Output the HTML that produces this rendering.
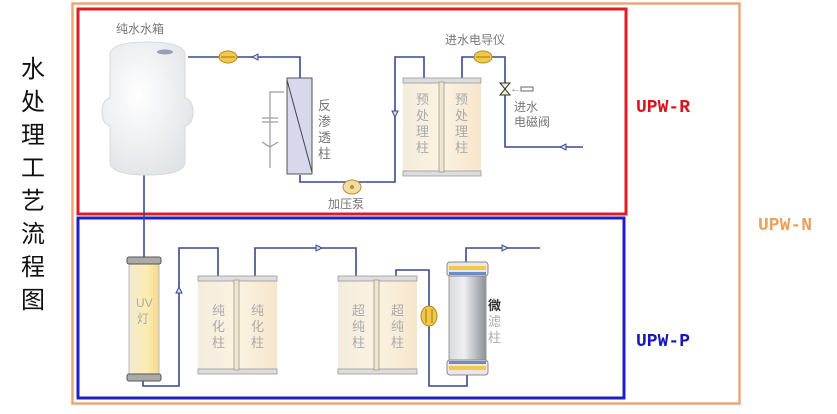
<!DOCTYPE html>
<html><head><meta charset="utf-8"><style>
html,body{margin:0;padding:0;background:#fff;width:837px;height:414px;overflow:hidden}
svg text{font-family:"Liberation Sans","Noto Sans CJK SC",sans-serif}
</style></head><body>
<svg width="837" height="414" viewBox="0 0 837 414" xmlns="http://www.w3.org/2000/svg">
<defs>
<linearGradient id="cream" x1="0" x2="1"><stop offset="0" stop-color="#f4ecdc"/><stop offset=".5" stop-color="#fbf2e2"/><stop offset="1" stop-color="#f6e6cc"/></linearGradient>
<linearGradient id="uv" x1="0" x2="1"><stop offset="0" stop-color="#f3ead2"/><stop offset=".6" stop-color="#fbecb0"/><stop offset="1" stop-color="#f3d890"/></linearGradient>
<linearGradient id="steel" x1="0" x2="1"><stop offset="0" stop-color="#d8dadd"/><stop offset=".4" stop-color="#eef0f2"/><stop offset="1" stop-color="#8c9096"/></linearGradient>
<radialGradient id="tank" cx=".4" cy=".4" r=".7"><stop offset="0" stop-color="#ffffff"/><stop offset="1" stop-color="#dfe2e6"/></radialGradient>
</defs>
<!-- left vertical title -->
<g font-size="24" fill="#111" text-anchor="middle">
<text x="33" y="77">水</text><text x="33" y="110">处</text><text x="33" y="143">理</text><text x="33" y="176">工</text>
<text x="33" y="209">艺</text><text x="33" y="242">流</text><text x="33" y="275">程</text><text x="33" y="308">图</text>
</g>
<!-- boxes -->
<rect x="72.5" y="3.5" width="667" height="400" fill="none" stroke="#eba777" stroke-width="2.5"/>
<rect x="78" y="9" width="548" height="205" fill="none" stroke="#e21c25" stroke-width="3"/>
<rect x="78" y="218" width="546" height="180" fill="none" stroke="#2020c0" stroke-width="3"/>
<g font-family="Liberation Mono,monospace" font-size="18" font-weight="bold">
<text x="636" y="112" fill="#d9141c" style="font-family:'Liberation Mono',monospace">UPW-R</text>
<text x="758" y="230" fill="#eba060" style="font-family:'Liberation Mono',monospace">UPW-N</text>
<text x="636" y="346" fill="#1a1ab0" style="font-family:'Liberation Mono',monospace">UPW-P</text>
</g>
<!-- pipes -->
<g fill="none" stroke="#3a4a8e" stroke-width="1.6">
<polyline points="188,57 300,57 300,78"/>
<polyline points="300,175 300,182 395,182 395,57 424,57 424,80"/>
<polyline points="462,80 462,57 505,57 505,147 583,147"/>
<polyline points="144,175 144,258"/>
<polyline points="143,380 143,386 179,386 179,248 218,248 218,277"/>
<polyline points="255,277 255,248 356,248 356,277"/>
<polyline points="396,277 396,270 429,270 429,386 467,386 467,375"/>
<polyline points="466,262 466,248 540,248"/>
</g>
<!-- RO side symbol -->
<g stroke="#999" stroke-width="1.2" fill="none">
<polyline points="284,92 270,92 270,168"/><line x1="262" y1="118" x2="278" y2="118"/><line x1="262" y1="122" x2="278" y2="122"/>
<polyline points="262,142 270,147 278,142"/>
</g>
<!-- arrows -->
<g fill="#cfe3f5" stroke="#3a4a8e" stroke-width="1">
<polygon points="252,57 258,54 258,60"/>
<polygon points="395,117 392,111 398,111"/>
<polygon points="560,147 566,144 566,150"/>
<polygon points="179,287 176,293 182,293"/>
<polygon points="322,248 316,245 316,251"/>
<polygon points="508,248 502,245 502,251"/>
</g>
<!-- tank -->
<text x="116" y="33" font-size="12" fill="#777">纯水水箱</text>
<path d="M110,55 Q110,42 148,42 Q185,42 185,55 L185,98 Q193,100 193,112 Q193,124 185,126 L185,162 Q185,175 148,175 Q110,175 110,162 L110,126 Q102,124 102,112 Q102,100 110,98 Z" fill="url(#tank)" stroke="#d6d9dd"/>
<ellipse cx="165" cy="52" rx="8" ry="2.5" fill="#5a6a9a" opacity=".6"/>
<!-- meter top -->
<ellipse cx="228" cy="57" rx="9" ry="6" fill="#f2c74a" stroke="#b08a20"/><line x1="221" y1="57" x2="235" y2="57" stroke="#a07a10"/>
<!-- RO column -->
<rect x="287" y="78" width="25" height="96" fill="#d8d8ec" stroke="#555"/>
<line x1="287" y1="80" x2="312" y2="172" stroke="#444"/>
<g font-size="13" fill="#777"><text x="318" y="110">反</text><text x="318" y="126">渗</text><text x="318" y="142">透</text><text x="318" y="158">柱</text></g>
<!-- pump -->
<ellipse cx="352" cy="187" rx="9" ry="7" fill="#f4dca0" stroke="#b09040"/>
<circle cx="352" cy="187" r="2" fill="#b09040"/>
<text x="328" y="208" font-size="12" fill="#777">加压泵</text>
<!-- pretreatment -->
<rect x="403" y="80" width="78" height="94" fill="url(#cream)"/>
<rect x="403" y="78" width="78" height="5" fill="#ddd" stroke="#999" stroke-width=".8"/>
<rect x="403" y="171" width="78" height="5" fill="#ddd" stroke="#999" stroke-width=".8"/>
<rect x="439" y="82" width="5" height="90" fill="#f0e6cc" stroke="#999" stroke-width=".8"/>
<g font-size="13" fill="#aaa"><text x="416" y="104">预</text><text x="416" y="120">处</text><text x="416" y="136">理</text><text x="416" y="152">柱</text>
<text x="455" y="104">预</text><text x="455" y="120">处</text><text x="455" y="136">理</text><text x="455" y="152">柱</text></g>
<text x="445" y="44" font-size="12" fill="#777">进水电导仪</text>
<ellipse cx="483" cy="57" rx="9" ry="6" fill="#f2c74a" stroke="#b08a20"/><line x1="476" y1="57" x2="490" y2="57" stroke="#a07a10"/>
<polygon points="500,83 510,83 500,95 510,95" fill="#eef2c0" stroke="#333"/>
<text x="510" y="92" font-size="11" fill="#888">←</text><rect x="521" y="87" width="12" height="4" fill="#fff" stroke="#666"/>
<g font-size="12" fill="#777"><text x="514" y="111">进水</text><text x="514" y="126">电磁阀</text></g>
<!-- UV -->
<rect x="129" y="262" width="30" height="116" fill="url(#uv)" stroke="#bbb"/>
<rect x="127" y="257" width="34" height="7" rx="2" fill="#aaa" stroke="#555"/>
<rect x="127" y="374" width="34" height="7" rx="2" fill="#aaa" stroke="#555"/>
<g font-size="12" fill="#aaa"><text x="136" y="307">UV</text><text x="137" y="323">灯</text></g>
<!-- purification -->
<rect x="198" y="278" width="79" height="93" fill="url(#cream)"/>
<rect x="198" y="276" width="79" height="5" fill="#ddd" stroke="#999" stroke-width=".8"/>
<rect x="198" y="369" width="79" height="5" fill="#ddd" stroke="#999" stroke-width=".8"/>
<rect x="234" y="280" width="5" height="90" fill="#f0e6cc" stroke="#999" stroke-width=".8"/>
<g font-size="13" fill="#aaa"><text x="212" y="315">纯</text><text x="212" y="331">化</text><text x="212" y="347">柱</text>
<text x="251" y="315">纯</text><text x="251" y="331">化</text><text x="251" y="347">柱</text></g>
<!-- ultra pure -->
<rect x="338" y="278" width="79" height="93" fill="url(#cream)"/>
<rect x="338" y="276" width="79" height="5" fill="#ddd" stroke="#999" stroke-width=".8"/>
<rect x="338" y="369" width="79" height="5" fill="#ddd" stroke="#999" stroke-width=".8"/>
<rect x="374" y="280" width="5" height="90" fill="#f0e6cc" stroke="#999" stroke-width=".8"/>
<g font-size="13" fill="#aaa"><text x="352" y="315">超</text><text x="352" y="331">纯</text><text x="352" y="347">柱</text>
<text x="391" y="315">超</text><text x="391" y="331">纯</text><text x="391" y="347">柱</text></g>
<ellipse cx="429" cy="316" rx="8" ry="10" fill="#f2c74a" stroke="#b08a20"/><line x1="426" y1="309" x2="426" y2="323" stroke="#a07a10"/><line x1="432" y1="309" x2="432" y2="323" stroke="#a07a10"/>
<!-- micro filter -->
<rect x="449" y="268" width="37" height="102" fill="url(#steel)" stroke="#999"/>
<rect x="447" y="262" width="41" height="14" rx="3" fill="#e8e8e8" stroke="#888"/>
<rect x="449" y="266" width="37" height="4" fill="#f2c94a"/><rect x="449" y="272" width="37" height="3" fill="#6a8ccc"/>
<rect x="447" y="360" width="41" height="15" rx="3" fill="#e8e8e8" stroke="#888"/>
<rect x="449" y="361" width="37" height="3" fill="#6a8ccc"/><rect x="449" y="366" width="37" height="4" fill="#f2c94a"/>
<g font-size="13"><text x="488" y="310" fill="#333" font-weight="bold">微</text><text x="488" y="326" fill="#aaa">滤</text><text x="488" y="342" fill="#aaa">柱</text></g>
</svg>
</body></html>
